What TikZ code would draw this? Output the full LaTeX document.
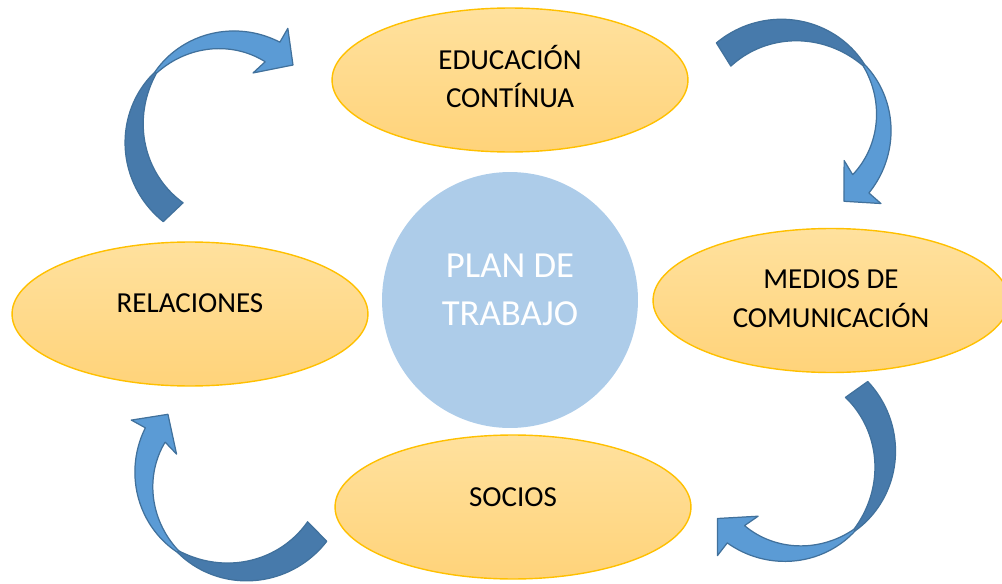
\documentclass[tikz,border=0pt]{standalone}
\usepackage{fontspec}
\setmainfont{Carlito}
\usepackage{tikz}
\usetikzlibrary{positioning,calc,shapes.geometric}

\definecolor{ovaltop}{RGB}{255,225,158}
\definecolor{ovalbottom}{RGB}{255,211,122}
\definecolor{ovalline}{RGB}{255,192,0}
\definecolor{circlefill}{RGB}{173,204,233}
\definecolor{arrowfront}{RGB}{91,155,213}
\definecolor{arrowback}{RGB}{71,122,171}
\definecolor{arrowline}{RGB}{65,113,156}

\tikzset{
  oval/.style = {ellipse, draw = ovalline, line width = .8pt, top color = ovaltop, bottom color = ovalbottom, minimum width = 7.12cm, minimum height = 2.88cm},
  ovaltext/.style = {font = \fontsize{16.5}{22}\selectfont, align = center, text = black},
  centro/.style = {circle, fill = circlefill, minimum size = 5.12cm},
  centrotext/.style = {font = \fontsize{20.9}{27.2}\selectfont, align = center, text = white},
  back/.style = {fill = arrowback, draw = arrowline, line width = .7pt, line join = round},
  front/.style = {fill = arrowfront, draw = arrowline, line width = .7pt, line join = round}
}

\begin{document}
\begin{tikzpicture}[x = .02cm, y = .02cm]

\useasboundingbox (0,0) rectangle (1002,583);

\node[oval] (educacion) at (510,503) {};
\node[oval] (medios) at (831,282.5) {};
\node[oval] (socios) at (513,76) {};
\node[oval] (relaciones) at (190,269) {};

\node[centro] (plan) at (510,283) {};

\node[ovaltext] (educacion-t) at ($(educacion)+(0,3.5)$) {EDUCACIÓN\\CONTÍNUA};
\node[ovaltext] (medios-t) at ($(medios)+(0,2)$) {MEDIOS DE\\COMUNICACIÓN};
\node[ovaltext] (socios-t) at ($(socios)+(0,10)$) {SOCIOS};
\node[ovaltext] (relaciones-t) at ($(relaciones)+(0,11)$) {RELACIONES};
\node[centrotext] (plan-t) at ($(plan)+(0,10)$) {PLAN DE\\TRABAJO};

%%%%%%%%%%%%%%%%%%%%%%%%%%%%%%%%

\begin{scope}[shift = {(230,445)}, rotate = 0]
\draw[back] plot[domain = 231.4:138.7, samples = 40] (\x:{107-7*((231.4-\x)/92.7)^2}) -- plot[domain = 138.7:234.1, samples = 40] (\x:{80+18*((234.1-\x)/95.4)^2}) -- cycle;
\draw[front] plot[domain = 138.7:62.5, samples = 40] (\x:{108-8*((\x-62.5)/76.2)^2}) -- (62.2:124) -- (49.2:96.4) -- (70.5:69) -- (65.3:83.7) -- plot[domain = 65.3:138.7, samples = 40] (\x:{98-14*(138.7-\x)/73.4}) -- cycle;
\end{scope}

%%%%%%%%%%%%%%%%%%%%%%%%%%%%%%%%

\begin{scope}[shift = {(785,458)}, rotate = -101.5]
\draw[back] plot[domain = 231.4:138.7, samples = 40] (\x:{107-7*((231.4-\x)/92.7)^2}) -- plot[domain = 138.7:234.1, samples = 40] (\x:{80+18*((234.1-\x)/95.4)^2}) -- cycle;
\draw[front] plot[domain = 138.7:62.5, samples = 40] (\x:{108-8*((\x-62.5)/76.2)^2}) -- (62.2:124) -- (49.2:96.4) -- (70.5:69) -- (65.3:83.7) -- plot[domain = 65.3:138.7, samples = 40] (\x:{98-14*(138.7-\x)/73.4}) -- cycle;
\end{scope}

%%%%%%%%%%%%%%%%%%%%%%%%%%%%%%%%

\begin{scope}[shift = {(790,128)}, rotate = -188]
\draw[back] plot[domain = 231.4:138.7, samples = 40] (\x:{107-7*((231.4-\x)/92.7)^2}) -- plot[domain = 138.7:234.1, samples = 40] (\x:{80+18*((234.1-\x)/95.4)^2}) -- cycle;
\draw[front] plot[domain = 138.7:62.5, samples = 40] (\x:{108-8*((\x-62.5)/76.2)^2}) -- (62.2:124) -- (49.2:96.4) -- (70.5:69) -- (65.3:83.7) -- plot[domain = 65.3:138.7, samples = 40] (\x:{98-14*(138.7-\x)/73.4}) -- cycle;
\end{scope}

%%%%%%%%%%%%%%%%%%%%%%%%%%%%%%%%

\begin{scope}[shift = {(242,107)}, rotate = 91]
\draw[back] plot[domain = 231.4:138.7, samples = 40] (\x:{107-7*((231.4-\x)/92.7)^2}) -- plot[domain = 138.7:234.1, samples = 40] (\x:{80+18*((234.1-\x)/95.4)^2}) -- cycle;
\draw[front] plot[domain = 138.7:62.5, samples = 40] (\x:{108-8*((\x-62.5)/76.2)^2}) -- (62.2:124) -- (49.2:96.4) -- (70.5:69) -- (65.3:83.7) -- plot[domain = 65.3:138.7, samples = 40] (\x:{98-14*(138.7-\x)/73.4}) -- cycle;
\end{scope}

\end{tikzpicture}
\end{document}
